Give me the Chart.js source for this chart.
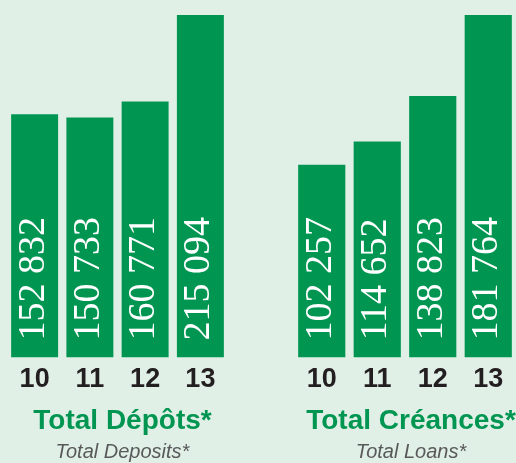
<!DOCTYPE html>
<html lang="fr">
  <head>
    <meta charset="UTF-8" />
    <title>Total Dépôts / Total Créances</title>
    <script src="https://cdn.jsdelivr.net/npm/chart.js"></script>
    <style>
      html, body { margin: 0; padding: 0; overflow: hidden; }
      body { width: 516px; height: 463px; background: #e1f0e7; position: relative; }
      canvas { position: absolute; top: 0; }
      #depositsChart { left: 7px; }
      #loansChart { left: 294px; }
    </style>
  </head>
  <body>
    <canvas id="depositsChart" width="231" height="463"></canvas>
    <canvas id="loansChart" width="234" height="463"></canvas>

    <script>
      const years = ["10", "11", "12", "13"];
      const deposits = [152832, 150733, 160771, 215094];
      const loans = [102257, 114652, 138823, 181764];

      const green = "#009652";

      function fmt(v) {
        return String(v).replace(/\B(?=(\d{3})+(?!\d))/g, " ");
      }

      // white vertical value written inside each bar
      const barValues = {
        id: "barValues",
        afterDatasetsDraw(chart) {
          const ctx = chart.ctx;
          const meta = chart.getDatasetMeta(0);
          const data = chart.data.datasets[0].data;
          ctx.save();
          ctx.fillStyle = "#ffffff";
          ctx.font = '38px "Liberation Serif"';
          ctx.textAlign = "left";
          ctx.textBaseline = "middle";
          meta.data.forEach(function (bar, i) {
            ctx.save();
            ctx.translate(bar.x - 1, bar.base - 17);
            ctx.rotate(-Math.PI / 2);
            ctx.fillText(fmt(data[i]), 0, 0);
            ctx.restore();
          });
          ctx.restore();
        },
      };

      function makeChart(id, values, title, subtitle, rightGap) {
        return new Chart(document.getElementById(id), {
          type: "bar",
          data: {
            labels: years,
            datasets: [
              {
                data: values,
                backgroundColor: green,
                borderWidth: 0,
                barPercentage: 0.85,
                categoryPercentage: 1,
              },
            ],
          },
          options: {
            responsive: false,
            animation: false,
            layout: { padding: { top: 15, bottom: 0.5, left: 0, right: 0 } },
            scales: {
              x: {
                grid: { display: false, drawTicks: false },
                border: { display: false },
                ticks: {
                  padding: 9,
                  color: "#231f20",
                  font: { family: "'Liberation Sans'", size: 27, weight: "bold", lineHeight: 1 },
                },
              },
              y: {
                position: "right",
                min: 0,
                max: Math.max(...values),
                grid: { display: false, drawTicks: false },
                border: { display: false },
                ticks: { display: false },
                afterFit: function (s) { s.width = rightGap; },
              },
            },
            plugins: {
              legend: { display: false },
              tooltip: { enabled: false },
              title: {
                display: true,
                text: title,
                position: "bottom",
                weight: 1000,
                color: green,
                padding: { top: 5, bottom: 0 },
                font: { family: "'Liberation Sans'", size: 28, weight: "bold", lineHeight: 1 },
              },
              subtitle: {
                display: true,
                text: subtitle,
                position: "bottom",
                weight: 2000,
                color: "#58595b",
                padding: { top: 7, bottom: 0 },
                font: { family: "'Liberation Sans'", size: 20, style: "italic", lineHeight: 1 },
              },
            },
          },
          plugins: [barValues],
        });
      }

      Promise.all([
        document.fonts.load('38px "Liberation Serif"'),
        document.fonts.load('bold 28px "Liberation Sans"'),
        document.fonts.load('italic 20px "Liberation Sans"'),
      ]).finally(function () {
        makeChart("depositsChart", deposits, "Total Dépôts*", "Total Deposits*", 10);
        makeChart("loansChart", loans, "Total Créances*", "Total Loans*", 12);
      });
    </script>
  </body>
</html>
